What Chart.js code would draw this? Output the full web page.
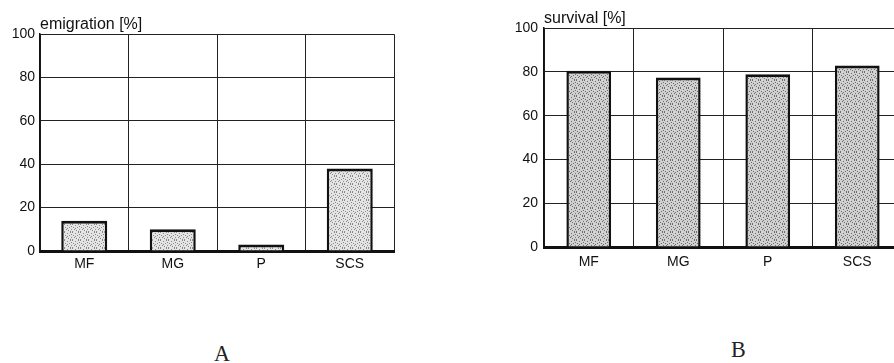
<!DOCTYPE html>
<html>
<head>
<meta charset="utf-8">
<script src="https://cdn.jsdelivr.net/npm/chart.js@4/dist/chart.umd.min.js"></script>
<style>
  html, body { margin: 0; padding: 0; background: #fff; overflow: hidden; width: 894px; height: 363px; }
  .wrap { position: absolute; }
  #wa { left: 0; top: 0; width: 420px; height: 290px; }
  #wb { left: 480px; top: 0; width: 440px; height: 290px; }
  .lab { position: absolute; font-family: "Liberation Serif", "DejaVu Serif", serif; font-size: 24px; color: #222; line-height: 1; transform: scaleX(0.92); transform-origin: left top; }
</style>
</head>
<body>
<div class="wrap" id="wa"><canvas id="ca" width="420" height="290"></canvas></div>
<div class="wrap" id="wb"><canvas id="cb" width="440" height="290"></canvas></div>
<div class="lab" style="left:214px; top:341px;">A</div>
<div class="lab" style="left:731px; top:337px;">B</div>
<script>
// ---- data ----
const categories = ["MF", "MG", "P", "SCS"];
const emigration = [14, 10, 3, 38];
const survival = [80.5, 77.5, 79, 83];
const yTicks = [0, 20, 40, 60, 80, 100];
const titleA = "emigration [%]";
const titleB = "survival [%]";

// stipple texture (style only)
const stippleDots = [[0,0],[3,1],[6,0],[1,3],[5,3],[2,5],[7,5],[4,6],[0,7],[6,7],[3,4],[7,2]];
function makePattern(base, dot) {
  const c = document.createElement('canvas');
  c.width = 8; c.height = 8;
  const x = c.getContext('2d');
  x.fillStyle = base; x.fillRect(0, 0, 8, 8);
  x.fillStyle = dot;
  stippleDots.forEach(p => x.fillRect(p[0], p[1], 1, 1));
  return x.createPattern(c, 'repeat');
}

const sans = 'Arial, "Liberation Sans", sans-serif';

function build(id, title, values, o) {
  const ctx = document.getElementById(id).getContext('2d');
  return new Chart(ctx, {
    type: 'bar',
    data: {
      labels: categories,
      datasets: [{
        data: values,
        backgroundColor: makePattern(o.base, o.dot),
        borderColor: '#111',
        borderWidth: { top: 3, left: 2.5, right: 2.5, bottom: 0 },
        barPercentage: o.bar,
        categoryPercentage: 1
      }]
    },
    options: {
      responsive: false,
      animation: false,
      layout: { padding: { left: 0, right: o.padRight, top: 0, bottom: 0 } },
      plugins: {
        legend: { display: false },
        tooltip: { enabled: false },
        title: {
          display: true,
          text: title,
          align: 'start',
          fullSize: false,
          color: '#111',
          font: { family: sans, size: 16, weight: 'normal' },
          padding: { top: o.titleTop, bottom: o.titleBottom }
        }
      },
      scales: {
        x: {
          grid: { display: true, offset: true, color: '#222', lineWidth: 1, drawTicks: false },
          border: { display: true, color: '#111', width: 3 },
          ticks: { color: '#111', padding: o.xPad, font: { family: sans, size: 14 } },
          afterFit: s => { s.height = o.xH; }
        },
        y: {
          min: 0, max: 100,
          afterBuildTicks: s => { s.ticks = yTicks.map(v => ({ value: v })); },
          grid: { color: '#222', lineWidth: 1, drawTicks: false },
          border: { display: true, color: '#111', width: 1.5 },
          ticks: { color: '#111', padding: o.yPad, font: { family: sans, size: 14 } },
          afterFit: s => { s.width = o.yW; }
        }
      }
    }
  });
}

build('ca', titleA, emigration, { base: '#e4e4e4', dot: '#8a8a8a', bar: 0.52, padRight: 26, titleTop: 15, titleBottom: 0, xPad: 5, xH: 39, yPad: 5, yW: 40 });
build('cb', titleB, survival, { base: '#d0d0d0', dot: '#6e6e6e', bar: 0.5, padRight: 18, titleTop: 9, titleBottom: 0, xPad: 7, xH: 43, yPad: 6, yW: 64 });
</script>
</body>
</html>
